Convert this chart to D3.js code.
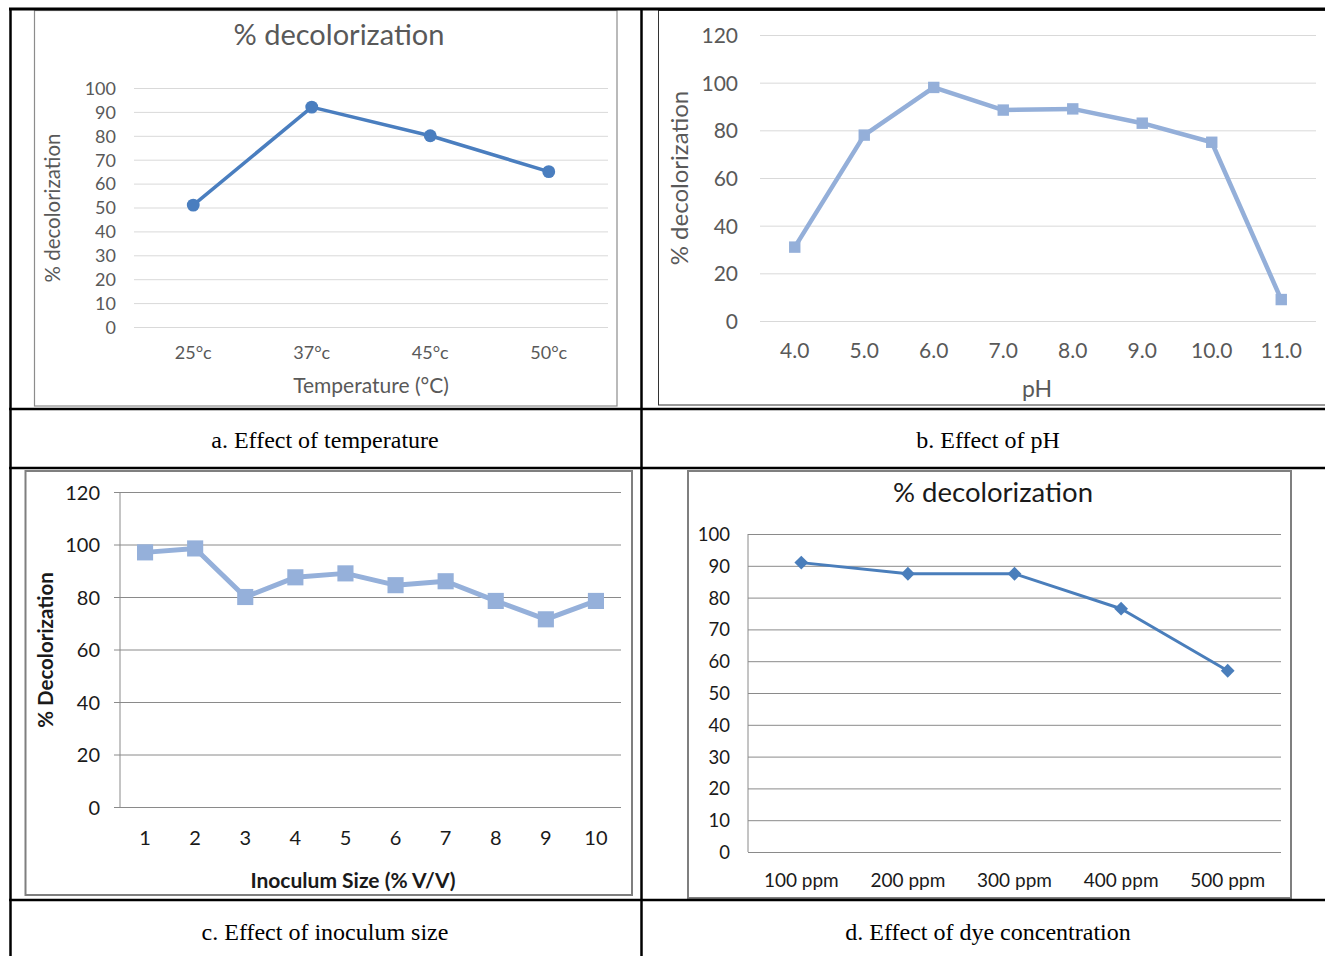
<!DOCTYPE html>
<html><head><meta charset="utf-8">
<script src="https://cdn.jsdelivr.net/npm/d3@7"></script>
<style>body{margin:0;background:#fff}svg{display:block}</style>
</head><body>
<svg id="c" width="1325" height="956"></svg>
<script>
// ---- data ----
const tempCats = ["25°c", "37°c", "45°c", "50°c"];
const tempVals = [51, 92, 80, 65];
const tempTicks = [0, 10, 20, 30, 40, 50, 60, 70, 80, 90, 100];

const phCats = ["4.0", "5.0", "6.0", "7.0", "8.0", "9.0", "10.0", "11.0"];
const phVals = [31, 78, 98, 88.5, 89, 83, 75, 9];
const phTicks = [0, 20, 40, 60, 80, 100, 120];

const inocCats = ["1", "2", "3", "4", "5", "6", "7", "8", "9", "10"];
const inocVals = [97, 98.5, 80, 87.5, 89, 84.5, 86, 78.5, 71.5, 78.5];
const inocTicks = [0, 20, 40, 60, 80, 100, 120];

const dyeCats = ["100 ppm", "200 ppm", "300 ppm", "400 ppm", "500 ppm"];
const dyeVals = [91, 87.5, 87.5, 76.5, 57];
const dyeTicks = [0, 10, 20, 30, 40, 50, 60, 70, 80, 90, 100];

const captions = ["a. Effect of temperature", "b. Effect of pH", "c. Effect of inoculum size", "d. Effect of dye concentration"];

const svg = d3.select("#c");
const FONT = "Lato, 'Open Sans', sans-serif";

function drawChart(o) {
  const g = svg.append("g");
  // frame
  g.append("rect").attr("x", o.frame[0]).attr("y", o.frame[1])
    .attr("width", o.frame[2] - o.frame[0]).attr("height", o.frame[3] - o.frame[1])
    .attr("fill", "#fff").attr("stroke", o.frameColor).attr("stroke-width", o.frameW);
  const x = d3.scaleBand().domain(o.cats).range([o.x0, o.x1]);
  const y = d3.scaleLinear().domain([0, o.ticks[o.ticks.length - 1]]).range([o.y0, o.y1]);
  // grid
  const yAxis = d3.axisLeft(y).tickValues(o.ticks).tickSize(-(o.x1 - o.gx0)).tickSizeOuter(0).tickPadding(0);
  const ga = g.append("g").attr("transform", `translate(${o.gx0},0)`).call(yAxis);
  ga.select(".domain").remove();
  ga.selectAll(".tick line").attr("stroke", o.gridColor).attr("stroke-width", 1);
  ga.selectAll(".tick text").attr("x", o.labelX - o.gx0).attr("dy", "0.35em")
    .attr("font-family", FONT).attr("font-size", o.tickFs).attr("fill", o.textColor);
  if (o.axisLine) {
    g.append("line").attr("x1", o.x0).attr("x2", o.x0).attr("y1", o.y0).attr("y2", o.y1)
      .attr("stroke", o.gridColor).attr("stroke-width", 1);
  }
  // x axis labels
  const xAxis = d3.axisBottom(x).tickSize(0).tickPadding(0);
  const gx = g.append("g").attr("transform", `translate(0,${o.xLabelY})`).call(xAxis);
  gx.select(".domain").remove();
  gx.selectAll(".tick text").attr("dy", "0.35em").attr("y", 0)
    .attr("font-family", FONT).attr("font-size", o.xFs).attr("fill", o.textColor);
  // line
  const pts = o.cats.map((c, i) => [x(c) + x.bandwidth() / 2, y(o.vals[i])]);
  g.append("path").attr("d", d3.line()(pts)).attr("fill", "none")
    .attr("stroke", o.color).attr("stroke-width", o.lineW).attr("stroke-linejoin", "round");
  g.selectAll(".m").data(pts).join("path")
    .attr("transform", d => `translate(${d[0]},${d[1]}) rotate(${o.markerRot || 0})`)
    .attr("d", d3.symbol().type(o.marker).size(o.markerSize))
    .attr("fill", o.color);
  // titles
  if (o.title) {
    g.append("text").attr("x", o.title[0]).attr("y", o.title[1]).attr("dy", "0.35em")
      .attr("text-anchor", "middle").attr("font-family", FONT).attr("font-size", o.title[2])
      .attr("fill", o.titleColor).text(o.title[3]);
  }
  if (o.xTitle) {
    g.append("text").attr("x", o.xTitle[0]).attr("y", o.xTitle[1]).attr("dy", "0.35em")
      .attr("text-anchor", "middle").attr("font-family", FONT).attr("font-size", o.xTitle[2])
      .attr("font-weight", o.bold ? "bold" : "normal").attr("fill", o.textColor).text(o.xTitle[3]);
  }
  if (o.yTitle) {
    g.append("text").attr("transform", `translate(${o.yTitle[0]},${o.yTitle[1]}) rotate(-90)`).attr("dy", "0.35em")
      .attr("text-anchor", "middle").attr("font-family", FONT).attr("font-size", o.yTitle[2])
      .attr("font-weight", o.bold ? "bold" : "normal").attr("fill", o.textColor).text(o.yTitle[3]);
  }
}

// a. temperature
drawChart({
  frame: [34.5, 10.5, 617, 406], frameColor: "#8c8c8c", frameW: 1.2,
  cats: tempCats, vals: tempVals, ticks: tempTicks,
  x0: 134, x1: 608, gx0: 134, y0: 327, y1: 88, labelX: 116,
  gridColor: "#d9d9d9", textColor: "#595959", tickFs: 18, xFs: 18, xLabelY: 353,
  color: "#4a7ebf", lineW: 3.5, marker: d3.symbolCircle, markerSize: 130,
  title: [339, 35, 29, "% decolorization"], titleColor: "#595959",
  xTitle: [371, 386, 21, "Temperature (°C)"], yTitle: [53, 208, 20.5, "% decolorization"]
});

// b. pH
drawChart({
  frame: [658.5, 10.5, 1335, 405], frameColor: "#333", frameW: 1,
  cats: phCats, vals: phVals, ticks: phTicks,
  x0: 760, x1: 1316, gx0: 760, y0: 321, y1: 35, labelX: 738,
  gridColor: "#d9d9d9", textColor: "#595959", tickFs: 21, xFs: 21, xLabelY: 351,
  color: "#94afd9", lineW: 4.5, marker: d3.symbolSquare, markerSize: 130,
  xTitle: [1037, 389, 23, "pH"], yTitle: [680, 178, 24, "% decolorization"]
});

// c. inoculum
drawChart({
  frame: [25.5, 471, 632, 895], frameColor: "#7f7f7f", frameW: 2,
  cats: inocCats, vals: inocVals, ticks: inocTicks,
  x0: 120, x1: 621, gx0: 114, y0: 807, y1: 492, labelX: 100,
  gridColor: "#8a8a8a", textColor: "#1a1a1a", tickFs: 20, xFs: 20, xLabelY: 838, axisLine: true,
  color: "#95b0da", lineW: 5, marker: d3.symbolSquare, markerSize: 260,
  xTitle: [353, 881, 21, "Inoculum Size (% V/V)"], yTitle: [46, 650, 20.5, "% Decolorization"], bold: true
});

// d. dye concentration
drawChart({
  frame: [688, 471, 1291, 898], frameColor: "#7f7f7f", frameW: 2,
  cats: dyeCats, vals: dyeVals, ticks: dyeTicks,
  x0: 748, x1: 1281, gx0: 748, y0: 852, y1: 534, labelX: 730,
  gridColor: "#8a8a8a", textColor: "#1a1a1a", tickFs: 18.5, xFs: 19, xLabelY: 880, axisLine: true,
  color: "#4a7ebb", lineW: 3, marker: d3.symbolSquare, markerSize: 95, markerRot: 45,
  title: [993, 492, 27.5, "% decolorization"], titleColor: "#1a1a1a"
});

// ---- table borders ----
const T = svg.append("g").attr("stroke", "#000");
T.append("line").attr("x1", 9).attr("x2", 1325).attr("y1", 9).attr("y2", 9).attr("stroke-width", 3);
T.append("line").attr("x1", 10.5).attr("x2", 10.5).attr("y1", 8).attr("y2", 956).attr("stroke-width", 2.5);
T.append("line").attr("x1", 641.5).attr("x2", 641.5).attr("y1", 8).attr("y2", 956).attr("stroke-width", 2.5);
[409, 468, 900].forEach(yy => T.append("line").attr("x1", 9).attr("x2", 1325).attr("y1", yy).attr("y2", yy).attr("stroke-width", 2.5));

// captions
const capPos = [[325, 440], [988, 440], [325, 932], [988, 932]];
captions.forEach((t, i) => {
  svg.append("text").attr("x", capPos[i][0]).attr("y", capPos[i][1]).attr("dy", "0.35em")
    .attr("text-anchor", "middle").attr("font-family", "'Liberation Serif', 'Times New Roman', serif")
    .attr("font-size", 24).attr("fill", "#000").text(t);
});
</script>
</body></html>
